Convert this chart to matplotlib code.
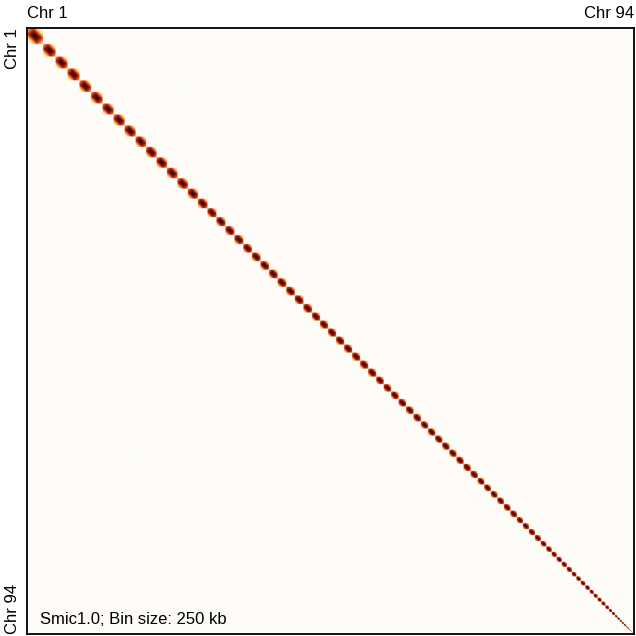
import numpy as np
import matplotlib
matplotlib.use("Agg")
import matplotlib.pyplot as plt
from matplotlib.colors import LinearSegmentedColormap

plt.rcParams["font.family"] = ["Liberation Sans", "DejaVu Sans"]

# chromosome lengths (Mb), Chr 1 .. Chr 94
chrom_mb = [
    21.4, 16.7, 16.0, 16.0, 15.4, 15.4, 14.7, 14.7, 14.7, 14.0,
    14.0, 14.0, 14.0, 14.0, 13.4, 12.7, 12.0, 12.0, 12.0, 12.0,
    11.4, 11.4, 11.4, 11.4, 11.4, 11.4, 11.4, 11.4, 10.7, 10.7,
    10.7, 10.7, 10.7, 10.7, 10.7, 10.7, 10.0, 10.0, 10.0, 10.0,
    10.0, 10.0, 9.4, 9.4, 9.4, 9.4, 9.4, 9.4, 9.4, 9.4,
    8.7, 8.7, 8.7, 8.7, 8.7, 8.7, 8.0, 8.0, 8.0, 8.0,
    7.3, 7.3, 6.7, 6.7, 6.7, 6.7, 6.0, 6.0, 6.0, 6.0,
    5.3, 5.3, 5.3, 5.3, 4.7, 4.0, 4.0, 3.3, 3.3, 2.7,
    2.7, 2.7, 2.0, 2.0, 1.3, 1.3, 0.7, 0.7, 0.7, 0.4,
    0.4, 0.4, 0.3, 0.3,
]
bin_kb = 250
assembly = "Smic1.0"

bins = [max(1, int(round(mb * 1000 / bin_kb))) for mb in chrom_mb]
n = sum(bins)
longest = max(bins)

# intra-chromosomal contacts: strongest in the middle of each chromosome,
# fading toward the ends and away from the diagonal (diamond-shaped blocks)
mat = np.zeros((n, n), dtype=np.float32)
start = 0
for L in bins:
    i, j = np.indices((L, L))
    span = max(L - 1, 1)
    dn = np.abs(i - j) / span
    e = np.abs(i + j - span) / span
    t = np.maximum(dn, 0.6 * e)
    tau = 0.5 + 0.35 * (1 - L / longest)
    mat[start:start + L, start:start + L] = np.exp(-(t / tau) ** 2)
    start += L

cmap = LinearSegmentedColormap.from_list(
    "hic", ["#fefcf8", "#fde7a8", "#f6a03a", "#d6461c", "#8e1511", "#3a0505"])

fig = plt.figure(figsize=(6.36, 6.36), dpi=100)
ax = fig.add_axes([27 / 636, 2 / 636, 607 / 636, 606 / 636])
ax.imshow(mat, cmap=cmap, vmin=0, vmax=1, interpolation="antialiased",
          extent=(0, n, n, 0), aspect="auto")
ax.set_xlim(0, n)
ax.set_ylim(n, 0)
ax.set_xticks([])
ax.set_yticks([])
for s in ax.spines.values():
    s.set_linewidth(1.3)
    s.set_color("black")

ax.text(0, 1.012, "Chr 1", transform=ax.transAxes, fontsize=12,
        ha="left", va="bottom")
ax.text(1, 1.012, "Chr 94", transform=ax.transAxes, fontsize=12,
        ha="right", va="bottom")
ax.text(-0.012, 1, "Chr 1", transform=ax.transAxes, fontsize=12,
        ha="right", va="top", rotation=90)
ax.text(-0.012, 0, "Chr 94", transform=ax.transAxes, fontsize=12,
        ha="right", va="bottom", rotation=90)
ax.text(0.022, 0.012, f"{assembly}; Bin size: {bin_kb} kb",
        transform=ax.transAxes, fontsize=12, ha="left", va="bottom")

fig.savefig("out.png", dpi=100)
